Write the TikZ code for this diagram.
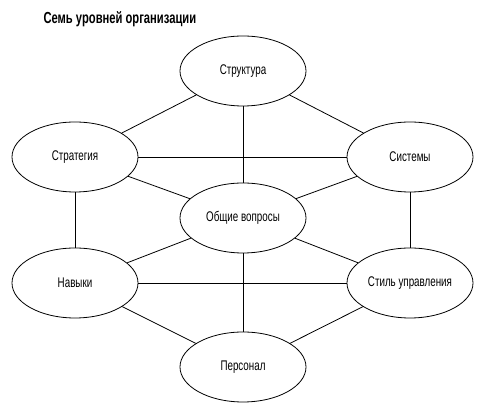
\documentclass[tikz,border=0pt]{standalone}
\usepackage{fontspec}
\setmainfont{Liberation Sans}[FakeStretch=0.7]
\usetikzlibrary{shapes.geometric}
\begin{document}
\begin{tikzpicture}[x=1pt, y=1pt,
   level/.style={ellipse, draw, line width=0.8pt, minimum width=126pt,
                 minimum height=70pt, inner sep=0pt, font=\fontsize{14}{16}\selectfont},
   link/.style={line width=0.8pt}]
   \useasboundingbox (0,0) rectangle (480,414);
   \node[anchor=base west, font=\fontsize{16}{18}\selectfont\bfseries] (title) at (40,390) {Семь уровней организации};
   \node[level] (struct) at (243,343) {Структура};
   \node[level] (strat) at (75,257) {Стратегия};
   \node[level] (sys) at (410,257) {Системы};
   \node[level] (common) at (243,196) {Общие вопросы};
   \node[level] (skills) at (75,131) {Навыки};
   \node[level] (style) at (410,131) {Стиль управления};
   \node[level] (staff) at (243,47) {Персонал};
   \draw[link] (struct) -- (strat);
   \draw[link] (struct) -- (sys);
   \draw[link] (struct) -- (common);
   \draw[link] (strat) -- (sys);
   \draw[link] (strat) -- (common);
   \draw[link] (sys) -- (common);
   \draw[link] (strat) -- (skills);
   \draw[link] (sys) -- (style);
   \draw[link] (common) -- (skills);
   \draw[link] (common) -- (style);
   \draw[link] (skills) -- (style);
   \draw[link] (common) -- (staff);
   \draw[link] (skills) -- (staff);
   \draw[link] (style) -- (staff);
\end{tikzpicture}
\end{document}
